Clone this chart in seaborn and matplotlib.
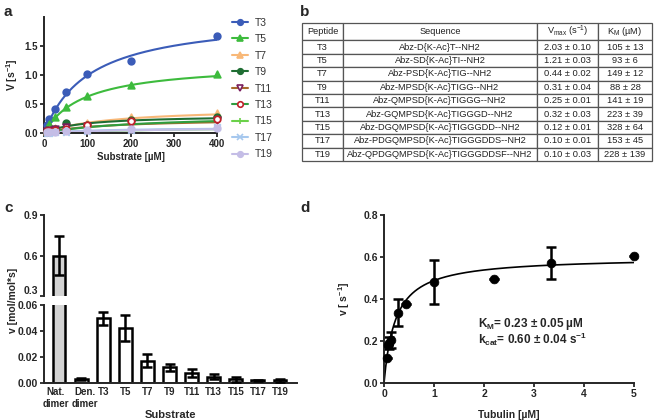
import numpy as np
import pandas as pd
import matplotlib
matplotlib.use("Agg")
import matplotlib.pyplot as plt
import matplotlib.transforms as mtransforms
from matplotlib.lines import Line2D
import seaborn as sns

# ---- panel a: initial rates vs substrate ----
conc = [6.25, 12.5, 25, 50, 100, 200, 400]
rates = {
    "T3": [0.14, 0.25, 0.42, 0.70, 1.02, 1.24, 1.68],
    "T5": [0.08, 0.15, 0.28, 0.44, 0.63, 0.82, 1.02],
    "T7": [0.03, 0.05, 0.08, 0.12, 0.18, 0.27, 0.34],
    "T9": [0.02, 0.04, 0.07, 0.17, 0.14, 0.22, 0.28],
    "T11": [0.04, 0.05, 0.07, 0.10, 0.12, 0.18, 0.22],
    "T13": [0.03, 0.04, 0.05, 0.07, 0.13, 0.20, 0.25],
    "T15": [0.005, 0.01, 0.015, 0.02, 0.03, 0.06, 0.08],
    "T17": [0.005, 0.008, 0.01, 0.02, 0.04, 0.05, 0.10],
    "T19": [0.01, 0.01, 0.02, 0.03, 0.05, 0.07, 0.09],
}

# ---- panel b: table ----
peptides = ["T3", "T5", "T7", "T9", "T11", "T13", "T15", "T17", "T19"]
sequences = [
    "Abz-D{K-Ac}T--NH2",
    "Abz-SD{K-Ac}TI--NH2",
    "Abz-PSD{K-Ac}TIG--NH2",
    "Abz-MPSD{K-Ac}TIGG--NH2",
    "Abz-QMPSD{K-Ac}TIGGG--NH2",
    "Abz-GQMPSD{K-Ac}TIGGGD--NH2",
    "Abz-DGQMPSD{K-Ac}TIGGGDD--NH2",
    "Abz-PDGQMPSD{K-Ac}TIGGGDDS--NH2",
    "Abz-QPDGQMPSD{K-Ac}TIGGGDDSF--NH2",
]
vmax = [2.03, 1.21, 0.44, 0.31, 0.25, 0.32, 0.12, 0.10, 0.10]
vmax_err = [0.10, 0.03, 0.02, 0.04, 0.01, 0.03, 0.01, 0.01, 0.03]
km = [105, 93, 149, 88, 141, 223, 328, 153, 228]
km_err = [13, 6, 12, 28, 19, 39, 64, 45, 139]

# ---- panel c: bar chart ----
substrates = ["Nat.\ndimer", "Den.\ndimer", "T3", "T5", "T7", "T9", "T11", "T13", "T15", "T17", "T19"]
bar_v = [0.60, 0.003, 0.050, 0.042, 0.017, 0.012, 0.008, 0.005, 0.003, 0.002, 0.002]
bar_err = [0.145, 0.0005, 0.005, 0.010, 0.005, 0.003, 0.003, 0.002, 0.002, 0.0005, 0.001]

# ---- panel d: tubulin kinetics ----
tub = [0.05, 0.08, 0.10, 0.13, 0.28, 0.44, 1.0, 2.2, 3.33, 5.0]
tub_v = [0.12, 0.18, 0.19, 0.205, 0.335, 0.375, 0.48, 0.495, 0.573, 0.605]
tub_err = [0, 0, 0.03, 0.04, 0.065, 0, 0.105, 0, 0.077, 0]
kcat, km_tub = 0.60, 0.23

sns.set_style("ticks")
plt.rcParams["font.family"] = ["Liberation Sans", "DejaVu Sans"]
plt.rcParams["mathtext.default"] = "regular"
plt.rcParams["axes.linewidth"] = 1.4

W, H = 660, 420
fig = plt.figure(figsize=(6.6, 4.2), dpi=100)


def px_axes(x0, y0, x1, y1):
    return fig.add_axes([x0 / W, 1 - y1 / H, (x1 - x0) / W, (y1 - y0) / H])


def style(ax, size=7.5):
    sns.despine(ax=ax)
    ax.tick_params(direction="out", length=3, width=1.3, labelsize=size, pad=1.5)
    for t in ax.get_xticklabels() + ax.get_yticklabels():
        t.set_fontweight("bold")


# panel letters
for lab, x, y in [("a", 4, 12), ("b", 300, 12), ("c", 4, 208), ("d", 300, 208)]:
    fig.text(x / W, 1 - y / H, lab, fontsize=11, fontweight="bold", va="center")

# ---------------- a ----------------
colors = {
    "T3": ("#3b5cb8", "#3b5cb8", "#3b5cb8", "o"),
    "T5": ("#3dbb3d", "#3dbb3d", "#3dbb3d", "^"),
    "T7": ("#f8b878", "#f8b878", "#f8b878", "^"),
    "T9": ("#1f6e33", "#1f6e33", "#1f6e33", "o"),
    "T11": ("#a86b2d", "#7a1e5e", "white", "v"),
    "T13": ("#2f9e3f", "#c0202a", "white", "o"),
    "T15": ("#6bd14a", "#6bd14a", "#6bd14a", "+"),
    "T17": ("#a6c8ee", "#a6c8ee", "#a6c8ee", "x"),
    "T19": ("#c4bde6", "#c4bde6", "#c4bde6", "o"),
}
axa = px_axes(44, 17, 217, 133)
xfit = np.linspace(0, 400, 300)
handles = []
for i, p in enumerate(peptides):
    lc, mc, fc, mk = colors[p]
    fit = pd.DataFrame({"x": xfit, "y": vmax[i] * xfit / (km[i] + xfit)})
    sns.lineplot(data=fit, x="x", y="y", color=lc, lw=1.5, ax=axa, legend=False)
    pts = pd.DataFrame({"x": conc, "y": rates[p]})
    if mk in ("+", "x"):
        sns.scatterplot(data=pts, x="x", y="y", marker=mk, color=mc, s=22, linewidth=1.5,
                        ax=axa, legend=False, clip_on=False, zorder=3)
    else:
        sns.scatterplot(data=pts, x="x", y="y", marker=mk, color=fc, edgecolor=mc, s=22,
                        linewidth=1.3, ax=axa, legend=False, clip_on=False, zorder=3)
    handles.append(Line2D([], [], color=lc, lw=1.5, marker=mk, markersize=4,
                          markerfacecolor=fc, markeredgecolor=mc, markeredgewidth=1.2, label=p))
axa.set_xlim(0, 400)
axa.set_ylim(0, 2.0)
axa.set_xticks([0, 100, 200, 300, 400])
axa.set_yticks([0.0, 0.5, 1.0, 1.5])
axa.set_yticklabels(["0.0", "0.5", "1.0", "1.5"])
axa.set_xlabel("Substrate [µM]", fontsize=7, fontweight="bold", labelpad=2)
axa.set_ylabel("V [s$^{-1}$]", fontsize=7.5, fontweight="bold", labelpad=3)
style(axa, 7)
leg = axa.legend(handles=handles, loc="upper left", bbox_to_anchor=(1.06, 1.03), frameon=False,
                 fontsize=7.5, handlelength=1.6, handletextpad=0.6, labelspacing=0.62,
                 borderaxespad=0)
for t in leg.get_texts():
    t.set_color("#333333")

# ---------------- b ----------------
axb = px_axes(302, 23, 652, 161)
axb.axis("off")
header = ["Peptide", "Sequence", "V$_{max}$ (s$^{-1}$)", "K$_{M}$ (µM)"]
cells = [[p, s, f"{v:.2f} ± {e:.2f}", f"{k} ± {ke}"]
         for p, s, v, e, k, ke in zip(peptides, sequences, vmax, vmax_err, km, km_err)]
tbl = axb.table(cellText=cells, colLabels=header, cellLoc="center", bbox=[0, 0, 1, 1],
                colWidths=[41, 194, 61, 54])
tbl.auto_set_font_size(False)
tbl.set_fontsize(6.7)
for (r, c), cell in tbl.get_celld().items():
    cell.set_edgecolor("#555555")
    cell.set_linewidth(0.9)
    cell.get_text().set_color("#222222")
    if r == 0:
        cell.set_height(cell.get_height() * 1.3)

# ---------------- c ----------------
xpos = np.arange(len(substrates))
dfc = pd.DataFrame({"sub": substrates, "v": bar_v})
bar_colors = ["#d3d3d3"] + ["white"] * (len(substrates) - 1)
axc_top = px_axes(44, 215, 297, 296)
axc = px_axes(44, 305, 297, 383)
for ax in (axc_top, axc):
    sns.barplot(data=dfc, x="sub", y="v", hue="sub", palette=bar_colors, legend=False,
                edgecolor="black", linewidth=1.8, width=0.58, errorbar=None, ax=ax)
    ax.errorbar(xpos, bar_v, yerr=bar_err, fmt="none", ecolor="black", elinewidth=1.8,
                capsize=3.5, capthick=1.8, zorder=5)
    ax.set_xlim(-0.68, 10.77)
axc_top.set_ylim(0.3, 0.9)
axc_top.set_yticks([0.3, 0.6, 0.9])
axc_top.set_xticks([])
axc_top.set_xlabel("")
axc_top.set_ylabel("")
axc.set_ylim(0, 0.06)
axc.set_yticks([0.0, 0.02, 0.04, 0.06])
axc.set_yticklabels(["0.00", "0.02", "0.04", "0.06"])
axc.set_xlabel("Substrate", fontsize=8, fontweight="bold", labelpad=1)
axc.set_ylabel("")
style(axc_top)
style(axc)
sns.despine(ax=axc_top, bottom=True)
axc.tick_params(axis="x", length=0, pad=3, labelsize=7)
# nudge the two two-line labels apart so "dimer" words do not collide
xlabels = axc.get_xticklabels()
for t, dx in zip(xlabels[:2], (-3.5, 3.5)):
    t.set_transform(t.get_transform() + mtransforms.ScaledTranslation(dx / 100, 0, fig.dpi_scale_trans))
for t in axc_top.get_yticklabels():
    if t.get_text() == "0.3":
        t.set_va("bottom")
fig.text(13 / W, 1 - 300 / H, "v [mol/mol*s]", rotation=90, fontsize=7.5, fontweight="bold",
         ha="center", va="center")

# ---------------- d ----------------
axd = px_axes(384, 215, 634, 383)
tfit = np.linspace(0, 5, 300)
sns.lineplot(data=pd.DataFrame({"x": tfit, "y": kcat * tfit / (km_tub + tfit)}), x="x", y="y",
             color="black", lw=1.2, ax=axd, legend=False)
axd.errorbar(tub, tub_v, yerr=tub_err, fmt="none", ecolor="black", elinewidth=1.8,
             capsize=3.5, capthick=1.8)
sns.scatterplot(data=pd.DataFrame({"x": tub, "y": tub_v}), x="x", y="y", color="black",
                s=40, edgecolor="black", ax=axd, legend=False, clip_on=False, zorder=4)
axd.set_xlim(0, 5)
axd.set_ylim(0, 0.8)
axd.set_xticks(range(6))
axd.set_yticks([0.0, 0.2, 0.4, 0.6, 0.8])
axd.set_yticklabels(["0.0", "0.2", "0.4", "0.6", "0.8"])
axd.set_xlabel("Tubulin [µM]", fontsize=7.5, fontweight="bold", labelpad=8)
axd.set_ylabel("v [ s$^{-1}$]", fontsize=7.5, fontweight="bold", labelpad=8)
style(axd)
axd.text(1.88, 0.265, f"K$_M$= {km_tub:.2f} ± 0.05 µM", fontsize=8.5, fontweight="bold")
axd.text(1.88, 0.185, f"k$_{{cat}}$= {kcat:.2f} ± 0.04 s$^{{-1}}$", fontsize=8.5, fontweight="bold")

fig.savefig("out.png", dpi=100)
